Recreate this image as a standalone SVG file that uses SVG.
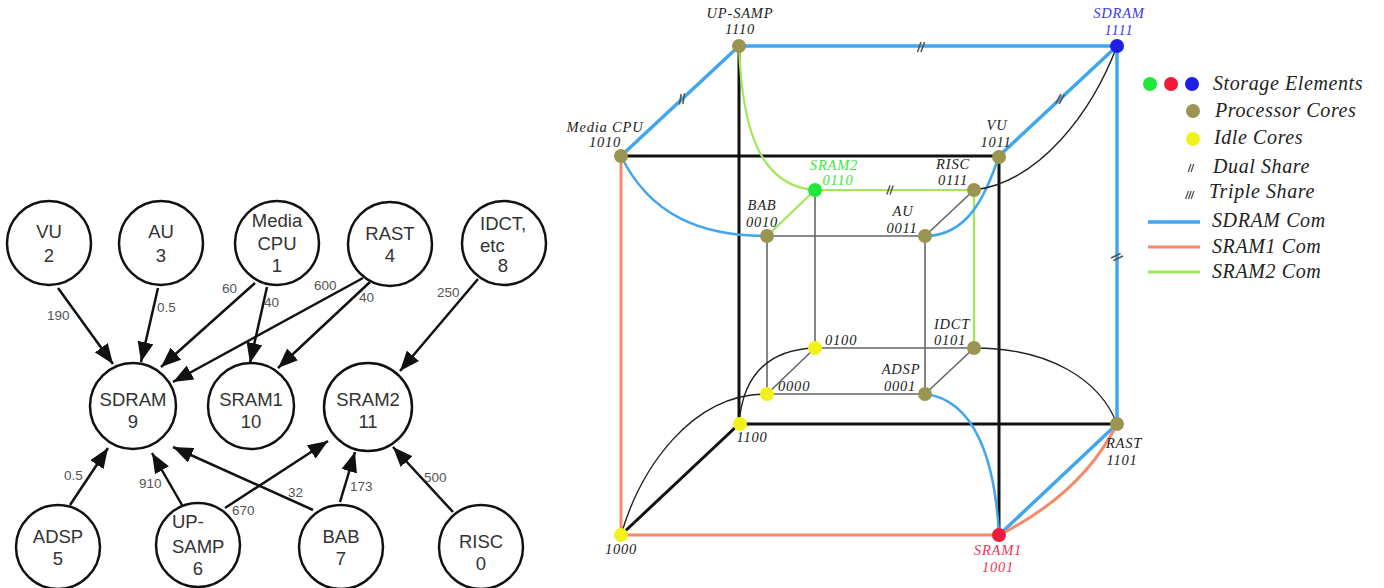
<svg xmlns="http://www.w3.org/2000/svg" width="1384" height="588" viewBox="0 0 1384 588">
<style>
.c{fill:#fff;stroke:#111;stroke-width:2.5}
.t{font-family:"Liberation Sans",Arial,sans-serif;font-size:18.5px;fill:#333;text-anchor:middle}
.w{font-family:"Liberation Sans",Arial,sans-serif;font-size:13.5px;fill:#555}
.a{stroke:#111;stroke-width:2.5;fill:none;marker-end:url(#ah)}
.n{font-family:"Liberation Serif","Times New Roman",serif;font-style:italic;font-size:14.5px;fill:#222;text-anchor:middle;letter-spacing:0.8px}
.lg{font-family:"Liberation Serif","Times New Roman",serif;font-style:italic;font-size:20px;fill:#222;letter-spacing:0.6px}
.bl{stroke:#42a6ee;stroke-width:3.5;fill:none}
.blc{stroke:#42a6ee;stroke-width:2.5;fill:none}
.or{stroke:#f58c68;stroke-width:3;fill:none}
.gr{stroke:#a4e65a;stroke-width:2.2;fill:none}
.bk{stroke:#111;stroke-width:3;fill:none}
.gy{stroke:#666;stroke-width:1.6;fill:none}
.th{stroke:#222;stroke-width:1.4;fill:none}
.mk{stroke:#555;stroke-width:1.6;fill:none}
.ol{fill:#9b9552}
.ye{fill:#f2f21a}
</style>
<defs>
<marker id="ah" viewBox="0 0 20 16" refX="20" refY="8" markerWidth="20" markerHeight="16" markerUnits="userSpaceOnUse" orient="auto">
<path d="M0,0 L20,8 L0,16 z" fill="#111"/>
</marker>
<path id="dual" d="M-3.5,5 L0,-5 M0,5 L3.5,-5"/>
<path id="triple" d="M-5.5,5 L-2,-5 M-2,5 L1.5,-5 M1.5,5 L5,-5"/>
</defs>

<!-- LEFT GRAPH -->
<g id="left-connectors">
<line class="a" x1="58" y1="288" x2="113" y2="364"/>
<line class="a" x1="158" y1="288" x2="141" y2="362"/>
<line class="a" x1="255" y1="283" x2="161" y2="367"/>
<line class="a" x1="267" y1="287" x2="250" y2="363"/>
<line class="a" x1="363" y1="278" x2="173" y2="382"/>
<line class="a" x1="370" y1="282" x2="278" y2="368"/>
<line class="a" x1="478" y1="279" x2="400" y2="371"/>
<line class="a" x1="70" y1="505" x2="108" y2="448"/>
<line class="a" x1="182" y1="505" x2="152" y2="453"/>
<line class="a" x1="225" y1="508" x2="328" y2="441"/>
<line class="a" x1="313" y1="510" x2="173" y2="447"/>
<line class="a" x1="340" y1="502" x2="355" y2="452"/>
<line class="a" x1="453" y1="512" x2="393" y2="447"/>
<text class="w" x="47" y="320">190</text>
<text class="w" x="157" y="312">0.5</text>
<text class="w" x="222" y="293">60</text>
<text class="w" x="264" y="307">40</text>
<text class="w" x="314" y="290">600</text>
<text class="w" x="359" y="302">40</text>
<text class="w" x="437" y="297">250</text>
<text class="w" x="64" y="480">0.5</text>
<text class="w" x="139" y="488">910</text>
<text class="w" x="232" y="515">670</text>
<text class="w" x="288" y="497">32</text>
<text class="w" x="350" y="491">173</text>
<text class="w" x="424" y="482">500</text>
</g>
<g id="n-vu"><circle class="c" cx="49" cy="243" r="42"/><text class="t" x="49" y="238">VU</text><text class="t" x="49" y="262">2</text></g>
<g id="n-au"><circle class="c" cx="161" cy="243" r="42"/><text class="t" x="161" y="238">AU</text><text class="t" x="161" y="262">3</text></g>
<g id="n-mcpu"><circle class="c" cx="277" cy="243" r="42"/><text class="t" x="277" y="227">Media</text><text class="t" x="277" y="250">CPU</text><text class="t" x="277" y="272">1</text></g>
<g id="n-rast"><circle class="c" cx="390" cy="244" r="42"/><text class="t" x="390" y="240">RAST</text><text class="t" x="390" y="262">4</text></g>
<g id="n-idct"><circle class="c" cx="504" cy="243" r="42"/><text class="t" x="480" y="230" style="text-anchor:start">IDCT,</text><text class="t" x="480" y="252" style="text-anchor:start">etc</text><text class="t" x="503" y="272">8</text></g>
<g id="n-sdram"><circle class="c" cx="133" cy="406" r="43"/><text class="t" x="133" y="406">SDRAM</text><text class="t" x="133" y="428">9</text></g>
<g id="n-sram1"><circle class="c" cx="251" cy="406" r="43"/><text class="t" x="251" y="406">SRAM1</text><text class="t" x="251" y="428">10</text></g>
<g id="n-sram2"><circle class="c" cx="368" cy="407" r="44"/><text class="t" x="368" y="406">SRAM2</text><text class="t" x="368" y="428">11</text></g>
<g id="n-adsp"><circle class="c" cx="58" cy="547" r="42"/><text class="t" x="58" y="543">ADSP</text><text class="t" x="58" y="565">5</text></g>
<g id="n-upsamp"><circle class="c" cx="198" cy="545" r="42"/><text class="t" x="172" y="528" style="text-anchor:start">UP-</text><text class="t" x="172" y="553" style="text-anchor:start">SAMP</text><text class="t" x="198" y="575">6</text></g>
<g id="n-bab"><circle class="c" cx="341" cy="547" r="42"/><text class="t" x="341" y="543">BAB</text><text class="t" x="341" y="565">7</text></g>
<g id="n-risc"><circle class="c" cx="481" cy="547" r="42"/><text class="t" x="481" y="548">RISC</text><text class="t" x="481" y="570">0</text></g>

<!-- RIGHT CUBE -->
<g id="cube-connectors">
<line class="gy" x1="767" y1="236" x2="925" y2="236"/>
<line class="gy" x1="767" y1="236" x2="767" y2="394"/>
<line class="gy" x1="815" y1="190" x2="815" y2="348"/>
<line class="gy" x1="925" y1="236" x2="925" y2="394"/>
<line class="gy" x1="815" y1="348" x2="974" y2="348"/>
<line class="gy" x1="767" y1="394" x2="925" y2="394"/>
<line class="gy" x1="815" y1="348" x2="767" y2="394"/>
<line class="gy" x1="974" y1="348" x2="925" y2="394"/>
<line class="gy" x1="925" y1="236" x2="974" y2="190"/>
<line class="gr" x1="815" y1="190" x2="974" y2="190"/>
<line class="gr" x1="815" y1="190" x2="767" y2="236"/>
<line class="gr" x1="974" y1="190" x2="974" y2="348"/>
<line class="bk" x1="621" y1="156" x2="999" y2="156"/>
<line class="bk" x1="739" y1="46" x2="739" y2="424"/>
<line class="bk" x1="999" y1="156" x2="999" y2="535"/>
<line class="bk" x1="739" y1="424" x2="1117" y2="424"/>
<line class="bk" x1="739" y1="424" x2="621" y2="535"/>
<line class="or" x1="621" y1="156" x2="621" y2="535"/>
<line class="or" x1="621" y1="535" x2="999" y2="535"/>
<line class="bl" x1="739" y1="46" x2="1117" y2="46"/>
<line class="bl" x1="739" y1="46" x2="621" y2="156"/>
<line class="bl" x1="1117" y1="46" x2="999" y2="156"/>
<line class="bl" x1="1117" y1="46" x2="1117" y2="424"/>
<line class="bl" x1="999" y1="535" x2="1117" y2="424"/>
<path class="or" d="M999,535 C1045,512 1090,478 1117,424"/>
<path class="gr" d="M739,46 C742,130 760,186 815,190"/>
<path class="blc" d="M621,156 C650,215 700,236 767,236"/>
<path class="blc" d="M925,236 C968,236 986,195 999,156"/>
<path class="th" d="M974,190 C1040,182 1092,112 1117,46"/>
<path class="th" d="M974,348 C1050,348 1100,380 1117,424"/>
<path class="blc" d="M925,394 C975,400 995,460 999,535"/>
<path class="th" d="M815,348 C760,350 742,385 739,424"/>
<path class="th" d="M767,394 C690,394 640,470 621,535"/>
<use href="#dual" class="mk" transform="translate(921,47)"/>
<use href="#dual" class="mk" transform="translate(682,99) rotate(-10)"/>
<use href="#dual" class="mk" transform="translate(1060,99) rotate(10)"/>
<use href="#dual" class="mk" transform="translate(1117,257) rotate(45)"/>
<use href="#dual" class="mk" transform="translate(890,190) scale(0.9)"/>
</g>
<g id="c-1110"><circle class="ol" cx="739" cy="46" r="7"/><text class="n" x="740" y="18">UP-SAMP</text><text class="n" x="740" y="34">1110</text></g>
<g id="c-1111"><circle cx="1117" cy="46" r="7" fill="#1e1ee8"/><text class="n" x="1119" y="18" style="fill:#3a3af0">SDRAM</text><text class="n" x="1119" y="35" style="fill:#3a3af0">1111</text></g>
<g id="c-1010"><circle class="ol" cx="621" cy="156" r="7"/><text class="n" x="605" y="132">Media CPU</text><text class="n" x="605" y="147">1010</text></g>
<g id="c-1011"><circle class="ol" cx="999" cy="157" r="7"/><text class="n" x="997" y="130">VU</text><text class="n" x="996" y="147">1011</text></g>
<g id="c-0110"><circle cx="815" cy="190" r="7" fill="#1ee83c"/><text class="n" x="834" y="170" style="fill:#3de63d">SRAM2</text><text class="n" x="838" y="185" style="fill:#3de63d">0110</text></g>
<g id="c-0111"><circle class="ol" cx="974" cy="190" r="7"/><text class="n" x="953" y="169">RISC</text><text class="n" x="953" y="185">0111</text></g>
<g id="c-0010"><circle class="ol" cx="767" cy="236" r="7"/><text class="n" x="762" y="210">BAB</text><text class="n" x="762" y="227">0010</text></g>
<g id="c-0011"><circle class="ol" cx="925" cy="236" r="7"/><text class="n" x="903" y="216">AU</text><text class="n" x="902" y="233">0011</text></g>
<g id="c-0100"><circle class="ye" cx="815" cy="348" r="7"/><text class="n" x="825" y="345" style="text-anchor:start">0100</text></g>
<g id="c-0101"><circle class="ol" cx="974" cy="348" r="7"/><text class="n" x="952" y="329">IDCT</text><text class="n" x="950" y="345">0101</text></g>
<g id="c-0000"><circle class="ye" cx="767" cy="394" r="7"/><text class="n" x="778" y="391" style="text-anchor:start">0000</text></g>
<g id="c-0001"><circle class="ol" cx="925" cy="394" r="7"/><text class="n" x="901" y="374">ADSP</text><text class="n" x="900" y="391">0001</text></g>
<g id="c-1100"><circle class="ye" cx="740" cy="424" r="7"/><text class="n" x="752" y="442">1100</text></g>
<g id="c-1101"><circle class="ol" cx="1117" cy="424" r="7"/><text class="n" x="1124" y="448">RAST</text><text class="n" x="1122" y="465">1101</text></g>
<g id="c-1000"><circle class="ye" cx="621" cy="535" r="7"/><text class="n" x="621" y="554">1000</text></g>
<g id="c-1001"><circle cx="999" cy="535" r="7" fill="#f21c3a"/><text class="n" x="998" y="555" style="fill:#ee3456">SRAM1</text><text class="n" x="998" y="572" style="fill:#ee3456">1001</text></g>

<g id="legend">
<circle cx="1150" cy="84" r="7" fill="#1ee83c"/>
<circle cx="1171" cy="84" r="7" fill="#f21c3a"/>
<circle cx="1192" cy="84" r="7" fill="#1e1ee8"/>
<text class="lg" x="1213" y="90">Storage Elements</text>
<circle class="ol" cx="1193" cy="111" r="7"/>
<text class="lg" x="1215" y="117">Processor Cores</text>
<circle class="ye" cx="1193" cy="139" r="7"/>
<text class="lg" x="1214" y="144">Idle Cores</text>
<use href="#dual" class="mk" transform="translate(1191,168) scale(0.8)"/>
<text class="lg" x="1213" y="173">Dual Share</text>
<use href="#triple" class="mk" transform="translate(1190,195) scale(0.8)"/>
<text class="lg" x="1209" y="198">Triple Share</text>
<line class="bl" x1="1148" y1="222" x2="1200" y2="222"/>
<text class="lg" x="1212" y="227">SDRAM Com</text>
<line class="or" x1="1148" y1="247" x2="1200" y2="247"/>
<text class="lg" x="1212" y="253">SRAM1 Com</text>
<line class="gr" x1="1148" y1="272" x2="1200" y2="272" style="stroke-width:3"/>
<text class="lg" x="1212" y="278">SRAM2 Com</text>
</g>
</svg>
